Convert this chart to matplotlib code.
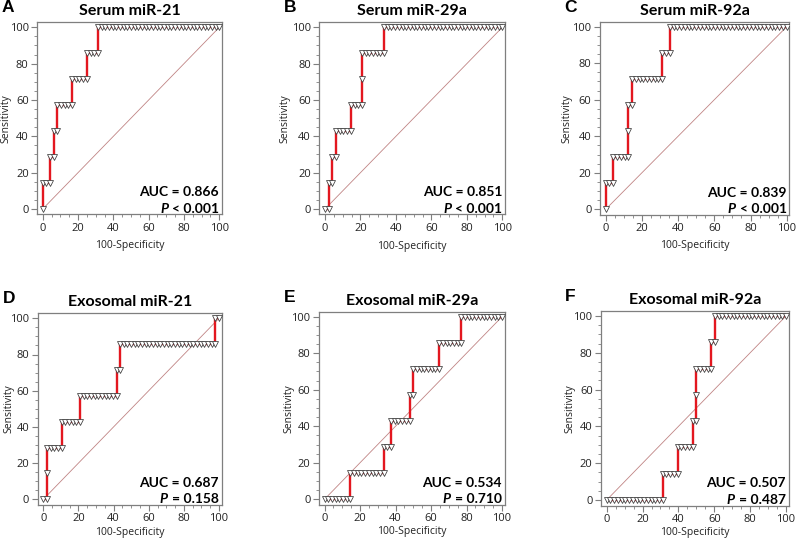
import matplotlib.pyplot as plt
from matplotlib.ticker import MultipleLocator

n_controls = 48
sensitivity = [0, 14.3, 28.6, 42.9, 57.1, 71.4, 85.7, 100]

titles = ["Serum miR-21", "Serum miR-29a", "Serum miR-92a",
          "Exosomal miR-21", "Exosomal miR-29a", "Exosomal miR-92a"]
letters = ["A", "B", "C", "D", "E", "F"]
auc_values = ["0.866", "0.851", "0.839", "0.687", "0.534", "0.507"]
p_values = ["< 0.001", "< 0.001", "< 0.001", "= 0.158", "= 0.710", "= 0.487"]

# false positive counts (of n_controls) where each sensitivity level starts / ends
serum21 = [(0, 0), (0, 2), (2, 3), (3, 4), (4, 8), (8, 12), (12, 15), (15, 48)]
serum29a = [(0, 1), (1, 2), (2, 3), (3, 7), (7, 10), (10, 10), (10, 16), (16, 48)]
serum92a = [(0, 0), (0, 2), (2, 6), (6, 6), (6, 7), (7, 15), (15, 17), (17, 48)]
exo21 = [(0, 1), (1, 1), (1, 5), (5, 10), (10, 20), (20, 21), (21, 47), (47, 48)]
exo29a = [(0, 7), (7, 16), (16, 18), (18, 23), (23, 24), (24, 31), (31, 37), (37, 48)]
exo92a = [(0, 15), (15, 19), (19, 23), (23, 24), (24, 24), (24, 28), (28, 29), (29, 48)]
curves = [serum21, serum29a, serum92a, exo21, exo29a, exo92a]

# pixel anchors of x=0, x=100, y=100, y=0 for each panel
anchors = [(42.7, 219.3, 27.3, 209.0), (325.0, 502.3, 27.3, 209.0),
           (605.7, 786.7, 26.7, 209.3), (43.3, 219.0, 318.3, 499.3),
           (324.5, 502.0, 316.7, 499.3), (606.7, 786.0, 316.0, 500.0)]
# pixel centres of the axis labels (y-label x, x-label y)
ylabel_px = [6.0, 285.0, 566.5, 8.5, 288.5, 570.0]
xlabel_px = [245.0, 246.0, 246.0, 533.0, 531.5, 533.0]

W, H = 799, 540
XLIM = (-3.2, 101.5)
YLIM = (-3.0, 102.8)

fig = plt.figure(figsize=(W / 100, H / 100), dpi=100)
text_font = "Open Sans"
bold_font = "Lato"
gray = "#7f7f7f"

for i in range(6):
    x0, x100, y100, y0 = anchors[i]
    sx = (x100 - x0) / 100
    sy = (y0 - y100) / 100
    left = x0 + XLIM[0] * sx
    right = x0 + XLIM[1] * sx
    bottom = y0 - YLIM[0] * sy
    top = y0 - YLIM[1] * sy
    ax = fig.add_axes([left / W, 1 - bottom / H, (right - left) / W, (bottom - top) / H])

    # diagonal reference line
    ax.plot([0, 100], [0, 100], color="#c08484", lw=0.6, zorder=1)

    xs, ys, mx, my = [], [], [], []
    for lev, (a, b) in enumerate(curves[i]):
        xs += [a * 100 / n_controls, b * 100 / n_controls]
        ys += [sensitivity[lev], sensitivity[lev]]
        for k in range(a, b + 1):
            mx.append(k * 100 / n_controls)
            my.append(sensitivity[lev])
    ax.plot(xs, ys, color="#e3171f", lw=1.7, zorder=2, solid_capstyle="butt")
    ax.plot(mx, my, ls="none", marker="v", ms=4.2, mfc="white", mec="#3a3a3a",
            mew=0.55, zorder=3)

    ax.set_xlim(*XLIM)
    ax.set_ylim(*YLIM)
    ax.xaxis.set_major_locator(MultipleLocator(20))
    ax.yaxis.set_major_locator(MultipleLocator(20))
    ax.xaxis.set_minor_locator(MultipleLocator(5))
    ax.yaxis.set_minor_locator(MultipleLocator(5))
    ax.tick_params(which="major", length=4, width=0.8, color=gray, labelsize=8,
                   labelcolor="#222222", pad=2)
    ax.tick_params(which="minor", length=2.2, width=0.6, color=gray)
    for lab in ax.get_xticklabels() + ax.get_yticklabels():
        lab.set_fontfamily(text_font)
    for sp in ax.spines.values():
        sp.set_color(gray)
        sp.set_linewidth(0.9)

    ax.set_xlabel("100-Specificity", fontsize=7.5, family=text_font, color="#222222")
    ax.set_ylabel("Sensitivity", fontsize=7.5, family=text_font, color="#222222")
    ax.yaxis.set_label_coords((ylabel_px[i] - left) / (right - left), 0.5)
    ax.xaxis.set_label_coords(0.5, (bottom - xlabel_px[i]) / (bottom - top))
    ax.yaxis.label.set_verticalalignment("center")
    ax.xaxis.label.set_verticalalignment("center")

    ax.set_title(titles[i], fontsize=11.5, family=bold_font, fontweight="bold", pad=5)
    ax.text(-0.19, 1.075, letters[i], transform=ax.transAxes, fontsize=12.5,
            family="Liberation Sans", fontweight="bold", ha="left", va="center")

    ax.text(0.985, 0.115, "AUC = " + auc_values[i], transform=ax.transAxes,
            fontsize=10, family=bold_font, fontweight="bold", ha="right", va="center")
    t = ax.text(0.985, 0.03, p_values[i], transform=ax.transAxes,
                fontsize=10, family=bold_font, fontweight="bold", ha="right", va="center")
    ax.annotate("P", xy=(0, 0.5), xycoords=t, xytext=(-3, 0), textcoords="offset points",
                fontsize=10, family=bold_font, fontweight="bold", fontstyle="italic",
                ha="right", va="center")

fig.savefig("out.png", dpi=100)
